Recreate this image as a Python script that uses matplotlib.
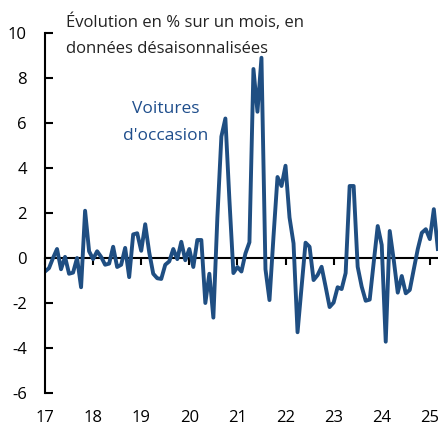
import matplotlib
matplotlib.use("Agg")
import matplotlib.pyplot as plt
import numpy as np

plt.rcParams['font.family'] = ['Open Sans', 'DejaVu Sans']

# monthly change (%), Jan 2017 .. Mar 2025
values = [
    -0.6, -0.45, 0.0, 0.4, -0.5, 0.05, -0.7, -0.65, 0.0, -1.3, 2.1, 0.3,      # 2017
    -0.05, 0.3, 0.05, -0.3, -0.25, 0.5, -0.4, -0.3, 0.45, -0.85, 1.05, 1.1,   # 2018
    0.32, 1.5, 0.25, -0.7, -0.9, -0.93, -0.3, -0.15, 0.4, -0.05, 0.72, -0.1,  # 2019
    0.4, -0.4, 0.8, 0.8, -2.0, -0.7, -2.65, 1.8, 5.4, 6.2, 2.6, -0.67,        # 2020
    -0.4, -0.6, 0.2, 0.7, 8.4, 6.5, 8.9, -0.5, -1.87, 0.95, 3.6, 3.2,         # 2021
    4.1, 1.8, 0.65, -3.3, -1.3, 0.68, 0.5, -0.98, -0.76, -0.39, -1.27, -2.18, # 2022
    -1.98, -1.3, -1.38, -0.67, 3.2, 3.2, -0.39, -1.27, -1.9, -1.85, -0.2, 1.42,  # 2023
    0.58, -3.72, 1.2, -0.09, -1.54, -0.8, -1.57, -1.42, -0.5, 0.4, 1.12, 1.28,   # 2024
    0.84, 2.17, 0.4,                                                          # 2025
]
years = list(range(2017, 2026))
year_labels = [str(y - 2000) for y in years]
yticks = [-6, -4, -2, 0, 2, 4, 6, 8, 10]

title_lines = ["Évolution en % sur un mois, en", "données désaisonnalisées"]
series_lines = ["Voitures", "d'occasion"]

x = 2017 + np.arange(len(values)) / 12.0

W, H = 438, 425
fig = plt.figure(figsize=(W/100, H/100), dpi=100)
ax = fig.add_axes([45/W, 1 - 393/H, 1 - 45/W, 360/H])

ax.plot(x, values, color='#1f4e82', lw=2.8, solid_joinstyle='round')

ax.set_xlim(2017, 2025.17)
ax.set_ylim(-6, 10)

for s in ['top', 'right', 'bottom']:
    ax.spines[s].set_visible(False)
ax.spines['left'].set_linewidth(1.5)

ax.set_yticks(yticks)
ax.set_yticklabels([str(v) for v in yticks])
ax.tick_params(axis='y', direction='in', length=6, width=1.5, pad=13, labelsize=12)

ax.set_xticks(years)
ax.set_xticklabels(year_labels)
ax.tick_params(axis='x', length=0, pad=12, labelsize=12)

# zero line carrying the year ticks
sec = ax.secondary_xaxis(0, transform=ax.transData)
sec.set_xticks(years)
sec.set_xticklabels([])
sec.tick_params(axis='x', direction='out', length=5, width=1.5)
sec.spines['bottom'].set_linewidth(1.5)

# title, two lines (baselines in px from top)
for txt, yb in zip(title_lines, [27, 53]):
    fig.text(66/W, 1 - yb/H, txt, ha='left', va='baseline',
             fontsize=12, color='#222222')

for txt, yb in zip(series_lines, [113, 140]):
    fig.text(166/W, 1 - yb/H, txt, ha='center', va='baseline',
             fontsize=12.5, color='#1f4e8c')

fig.savefig('out.png', dpi=100)
